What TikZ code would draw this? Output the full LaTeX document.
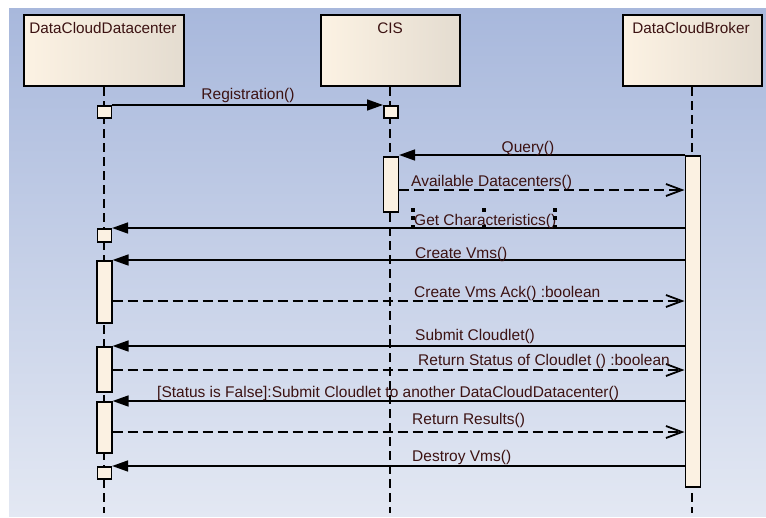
\documentclass[tikz,border=0pt]{standalone}
\usepackage{fontspec}
\setmainfont{Liberation Sans}
\usetikzlibrary{arrows.meta}

\definecolor{bgtop}{RGB}{168,184,220}
\definecolor{bgbot}{RGB}{227,232,243}
\definecolor{boxL}{RGB}{252,242,227}
\definecolor{boxR}{RGB}{228,220,208}
\definecolor{actfill}{RGB}{251,241,226}
\definecolor{txt}{RGB}{60,18,18}

\newcommand\lblfont{\fontsize{15.3}{18}\selectfont}
\newcommand\msgfont{\fontsize{15.5}{18}\selectfont}

\tikzset{
  head/.style={draw=black, line width=2pt, left color=boxL, right color=boxR,
    anchor=north west, inner sep=0pt, minimum height=71pt},
  title/.style={anchor=base, inner sep=0pt, text=txt, font=\lblfont},
  act/.style={draw=black, line width=1.6pt, fill=actfill, anchor=north west,
    inner sep=0pt, minimum width=14pt},
  life/.style={line width=2pt, dash pattern=on 9pt off 5pt},
  call/.style={line width=1.6pt, -{Triangle[length=16pt,width=11pt]}},
  reply/.style={line width=1.8pt, dash pattern=on 10pt off 5pt,
    -{Straight Barb[length=16pt,width=12pt,line width=1.8pt]}},
  lbl/.style={anchor=base west, inner sep=0pt, text=txt, font=\msgfont},
  handle/.style={fill=black, inner sep=0pt, minimum size=3.5pt},
}

\begin{document}
\begin{tikzpicture}[x=1pt, y=-1pt]
  \useasboundingbox (0,0) rectangle (766,517);
  % backdrop
  \shade[top color=bgtop, bottom color=bgbot] (9,8) rectangle (766,516);

  % lifeline heads
  \node[head, minimum width=160pt] (hD) at (23,14) {};
  \node[head, minimum width=139pt] (hC) at (320,14) {};
  \node[head, minimum width=139pt] (hB) at (622,14) {};
  \node[title] (tD) at (103,33) {DataCloudDatacenter};
  \node[title] (tC) at (390,33) {CIS};
  \node[title] (tB) at (691,33) {DataCloudBroker};

  % lifelines
  \coordinate (eD) at (103.5,513);
  \coordinate (eC) at (390,513);
  \coordinate (eB) at (692,513);
  \draw[life] (hD.south -| eD) -- (eD);
  \draw[life] (hC.south -| eC) -- (eC);
  \draw[life] (hB.south -| eB) -- (eB);

  % activation bars
  \node[act, minimum height=12pt] (dreg) at (96.5,105) {};
  \node[act, minimum height=12pt] (creg) at (383,105) {};
  \node[act, minimum height=55pt, minimum width=15pt] (cq) at (382.5,156) {};
  \node[act, minimum height=331pt, minimum width=15pt] (bk) at (684.5,155) {};
  \node[act, minimum height=13pt] (dgc) at (96.5,228) {};
  \node[act, minimum height=62pt, minimum width=15pt] (dcv) at (96,260) {};
  \node[act, minimum height=45pt, minimum width=15pt] (dsc) at (96,346) {};
  \node[act, minimum height=51pt, minimum width=15pt] (dst) at (96,401) {};
  \node[act, minimum height=12pt] (ddv) at (96.5,466) {};

  % return levels
  \coordinate (yAv) at (0,190);
  \coordinate (yAck) at (0,301);
  \coordinate (yRs) at (0,370);
  \coordinate (yRr) at (0,432);

  % messages
  \draw[call] (dreg.north east) -- (creg.north west);
  \node[lbl, anchor=base] (mReg) at (248,99.5) {Registration()};

  \draw[call] (bk.north west) -- (cq.north east |- bk.north west);
  \node[lbl, anchor=base] (mQ) at (528,152.5) {Query()};

  \draw[reply] (cq.east |- yAv) -- (bk.west |- yAv);
  \node[lbl] (mAv) at (411,186) {Available Datacenters()};

  \draw[call] (bk.west |- dgc.north) -- (dgc.north east);
  \node[lbl] (mGc) at (414,225) {Get Characteristics()};
  \foreach \hx/\hy in {413/210, 413/218, 413/227, 484/210, 484/227,
                       555/210, 555/218, 555/227}
    \node[handle] at (\hx,\hy) {};

  \draw[call] (bk.west |- dcv.north) -- (dcv.north east);
  \node[lbl] (mCv) at (415,258) {Create Vms()};

  \draw[reply] (dcv.east |- yAck) -- (bk.west |- yAck);
  \node[lbl] (mAck) at (414,297) {Create Vms Ack() :boolean};

  \draw[call] (bk.west |- dsc.north) -- (dsc.north east);
  \node[lbl] (mSc) at (415,340.5) {Submit Cloudlet()};

  \draw[reply] (dsc.east |- yRs) -- (bk.west |- yRs);
  \node[lbl] (mRs) at (418,365) {Return Status of Cloudlet () :boolean};

  \draw[call] (bk.west |- dst.north) -- (dst.north east);
  \node[lbl] (mSt) at (157,397) {[Status is False]:Submit Cloudlet to another DataCloudDatacenter()};

  \draw[reply] (dst.east |- yRr) -- (bk.west |- yRr);
  \node[lbl] (mRr) at (412,424) {Return Results()};

  \draw[call] (bk.west |- ddv.north) -- (ddv.north east);
  \node[lbl] (mDv) at (412,461.5) {Destroy Vms()};
\end{tikzpicture}
\end{document}
